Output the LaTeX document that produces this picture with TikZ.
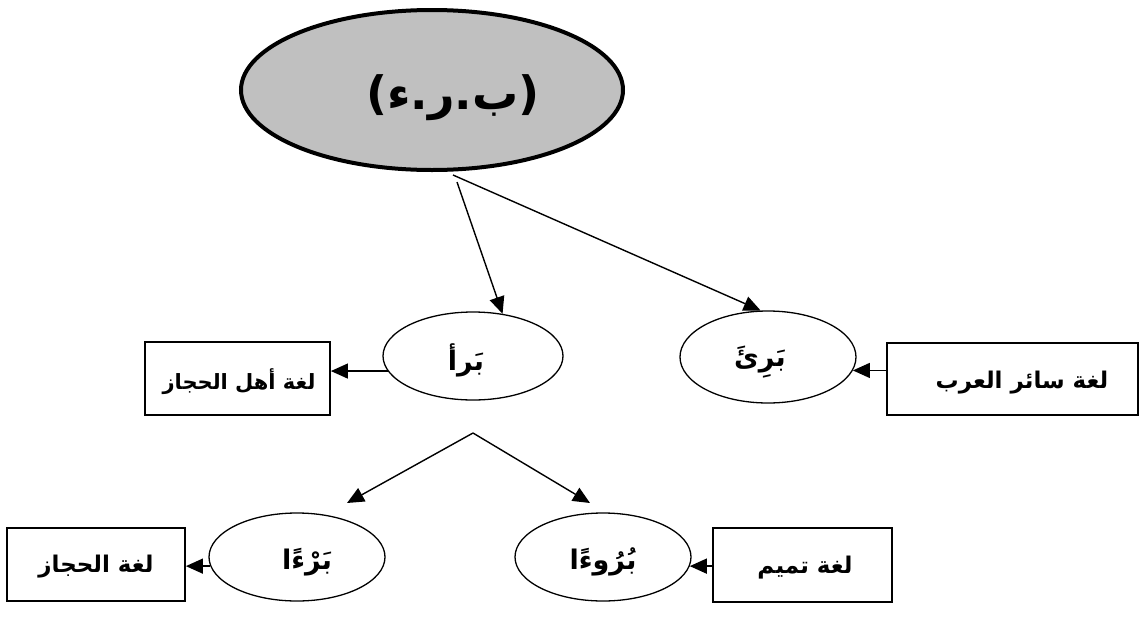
\documentclass[tikz,border=0pt]{standalone}
\usepackage{fontspec}
\newfontfamily\arabicfont[Script=Arabic]{DejaVu Sans}
\TeXXeTstate=1
\usetikzlibrary{shapes.geometric,arrows.meta}
\tikzset{
  arr/.style={line width=1.4pt,-{Triangle[length=17pt,width=15pt]}},
  ell/.style={ellipse,draw,line width=1.3pt,minimum width=176pt,minimum height=88pt,inner sep=0pt},
  lbox/.style={rectangle,draw,line width=1.8pt,inner sep=0pt},
  atxt/.style={font=\arabicfont\bfseries\fontsize{23}{28}\selectfont},
  etxt/.style={font=\arabicfont\bfseries\fontsize{27}{32}\selectfont},
}
\begin{document}
\begin{tikzpicture}[x=1pt,y=-1pt]
\useasboundingbox (0,0) rectangle (1141,619);
% root
\node[ellipse,draw,line width=4pt,fill={rgb,255:red,192;green,192;blue,192},minimum width=382pt,minimum height=160pt,inner sep=0pt] (root) at (432,90) {};
\node[font=\arabicfont\bfseries\fontsize{46}{54}\selectfont] (roottxt) at (453,98) {\beginR(ب.ر.ء)\endR};
\coordinate (s1) at (457,182);
\coordinate (s2) at (453,175);
% level 1
\node[ell,minimum width=180pt,minimum height=88pt] (mid) at (473,356) {};
\node[etxt] (midtxt) at (466,360) {\beginR بَرأ\endR};
\node[ell,minimum width=176pt,minimum height=92pt] (rt) at (768,357) {};
\node[etxt] (rttxt) at (760,362) {\beginR بَرِئَ\endR};
\node[lbox,minimum width=185pt,minimum height=73pt] (boxA) at (237.5,378.5) {};
\node[atxt,font=\arabicfont\bfseries\fontsize{21}{26}\selectfont] (boxAtxt) at (239,382) {\beginR لغة أهل الحجاز\endR};
\node[lbox,minimum width=251pt,minimum height=72pt] (boxB) at (1012.5,379) {};
\node[atxt] (boxBtxt) at (1022,383) {\beginR لغة سائر العرب\endR};
% level 2
\coordinate (s3) at (473,433);
\coordinate (t1) at (347,503);
\coordinate (t2) at (590,503);
\node[ell] (bl) at (297,557) {};
\node[etxt] (bltxt) at (307,562) {\beginR بَرْءًا\endR};
\node[ell] (br) at (603,557) {};
\node[etxt] (brtxt) at (603,562) {\beginR بُرُوءًا\endR};
\node[lbox,minimum width=178pt,minimum height=73pt] (boxC) at (96,564.5) {};
\node[atxt] (boxCtxt) at (96,567) {\beginR لغة الحجاز\endR};
\node[lbox,minimum width=179pt,minimum height=74pt] (boxD) at (802.5,565) {};
\node[atxt] (boxDtxt) at (805,568) {\beginR لغة تميم\endR};
% connectors
\draw[arr] (s1) -- (mid.55);
\draw[arr] (s2) -- (rt.99);
\draw[arr] (s3) -- (t1);
\draw[arr] (s3) -- (t2);
\draw[arr] (mid.190) -- (mid.190 -| boxA.east);
\draw[arr] (rt.-9 -| boxB.west) -- (rt.-9);
\draw[arr] (bl.186) -- (bl.186 -| boxC.east);
\draw[arr] (br.-6 -| boxD.west) -- (br.-6);
\end{tikzpicture}
\end{document}
